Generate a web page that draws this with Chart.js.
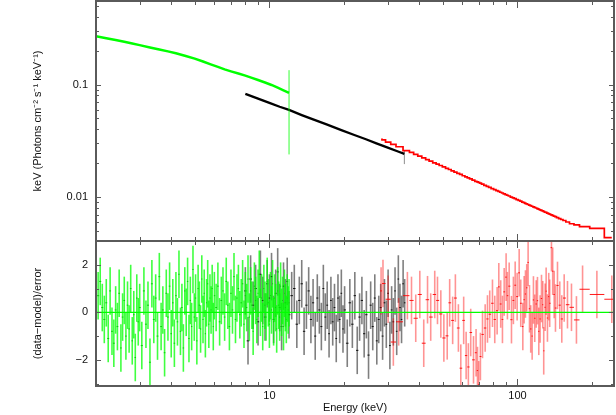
<!DOCTYPE html>
<html>
<head>
<meta charset="utf-8">
<script src="https://cdn.jsdelivr.net/npm/chart.js@4.4.1/dist/chart.umd.min.js"></script>
<style>
  html, body { margin: 0; padding: 0; background: #fff; overflow: hidden; }
  #wrap { position: relative; width: 616px; height: 415px; }
  #wrap canvas { position: absolute; left: 0; }
  #specChart { top: 0; }
  #resChart { top: 241px; }
</style>
</head>
<body>
<div id="wrap">
  <canvas id="specChart" width="616" height="242"></canvas>
  <canvas id="resChart" width="616" height="174"></canvas>
</div>
<script>
// energy axis (keV)
const xRange = [2.0, 245];
const xLabelTicks = [10, 100];
const xMinorTicks = [2, 3, 4, 5, 6, 7, 8, 9, 20, 30, 40, 50, 60, 70, 80, 90, 200];

// upper panel: unfolded spectrum
const fluxRange = [0.0041, 0.55];
const fluxLabelTicks = [0.01, 0.1];
const fluxMinorTicks = [0.005, 0.006, 0.007, 0.008, 0.009, 0.02, 0.03, 0.04, 0.05, 0.06, 0.07, 0.08, 0.09, 0.2, 0.3, 0.4, 0.5];

const greenSpecE = [2.0, 2.2, 2.4, 2.6, 2.8, 3.0, 3.3, 3.6, 3.9, 4.2, 4.6, 5.0, 5.4, 5.8, 6.2, 6.6, 7.0, 7.5, 8.0, 8.5, 9.0, 9.6, 10.2, 10.8, 11.4, 12.0];
const greenSpecFlux = [0.268, 0.2576, 0.2483, 0.2393, 0.2312, 0.2234, 0.2133, 0.2046, 0.1968, 0.1892, 0.1791, 0.1698, 0.160, 0.151, 0.1432, 0.1361, 0.1309, 0.1253, 0.120, 0.1146, 0.1096, 0.1042, 0.0991, 0.0938, 0.0889, 0.0843];
const greenWideE = [12.0];
const greenWideLo = [0.024];
const greenWideHi = [0.134];

const blackSpecE = [8.0, 9.0, 10.0, 11.0, 12.0, 13.5, 15.0, 17.0, 19.5, 22.0, 24.5, 27.0, 30.0, 33.0, 35.0];
const blackSpecFlux = [0.0826, 0.0750, 0.0687, 0.0635, 0.0595, 0.0536, 0.0491, 0.0443, 0.0394, 0.0357, 0.0327, 0.0301, 0.0276, 0.0255, 0.0243];
const blackWideE = [35.0];
const blackWideLo = [0.0197];
const blackWideHi = [0.0262];

// red bins are shared by both panels
const redE = [
  28.2, 28.7, 30.1, 31.6, 33.2, 36.0, 37.4, 38.9, 40.4, 41.9, 43.4,
  44.7, 46.4, 47.6, 49.1, 50.5, 52.1, 53.3, 54.8, 56.2, 57.8,
  59.1, 60.7, 62.1, 63.4, 64.8, 66.5, 68.1, 69.0, 69.8, 70.9,
  72.3, 74.1, 75.7, 77.3, 79.3, 81.0, 82.8, 84.1, 85.6, 87.0,
  88.4, 90.0, 91.1, 92.6, 94.6, 96.3, 97.9, 99.7, 101.6, 103.1,
  105.1, 106.4, 107.7, 109.0, 110.4, 111.8, 113.1, 114.6, 116.0, 117.4,
  119.0, 120.4, 121.9, 123.4, 125.0, 126.5, 127.6, 129.3, 130.5, 132.1,
  133.7, 134.9, 137.1, 138.7, 140.6, 142.3, 145.0, 148.1, 150.9, 154.3,
  159.1, 165.1, 172.9, 183, 209, 240
];
const redFlux = [
  0.03260, 0.03233, 0.03090, 0.02943, 0.02806, 0.02592, 0.02499, 0.02403, 0.02318, 0.02234, 0.02160,
  0.02096, 0.02021, 0.01972, 0.01914, 0.01863, 0.01806, 0.01764, 0.01716, 0.01675, 0.01630,
  0.01596, 0.01553, 0.01520, 0.01488, 0.01457, 0.01422, 0.01387, 0.01371, 0.01355, 0.01334,
  0.01310, 0.01278, 0.01252, 0.01226, 0.01196, 0.01171, 0.01146, 0.01129, 0.01109, 0.01092,
  0.01075, 0.01056, 0.01043, 0.01027, 0.01006, 0.00988, 0.00973, 0.00955, 0.00938, 0.00924,
  0.00908, 0.00896, 0.00885, 0.00875, 0.00864, 0.00854, 0.00844, 0.00833, 0.00823, 0.00814,
  0.00804, 0.00794, 0.00785, 0.00775, 0.00766, 0.00757, 0.00750, 0.00740, 0.00734, 0.00725,
  0.00716, 0.00710, 0.00699, 0.00691, 0.00682, 0.00674, 0.00662, 0.00648, 0.00636, 0.00623,
  0.00604, 0.00583, 0.0057, 0.00549, 0.0053, 0.0044
];
const redRes = [
  0.9, 1.21, 0.55, -1.25, -0.4, 0.7, 0.5, -0.25, 0.75, -1.3, 0.53,
  -0.2, 0.75, 0.5, -0.07, -1.08, -0.99, 0.4, -0.34, 0.6, -0.66,
  -2.35, -0.34, -1.82, -2.3, -0.85, -2.0, -1.7, -2.45, -3.05, -1.86,
  -0.93, -0.66, -0.28, -0.08, 0.38, -0.3, 0.07, 1.07, 0.35, -0.3,
  0.86, 1.48, 0.7, 1.1, -0.31, 0.5, 1.14, 0.66, 1.66, 0.38,
  -0.6, 0.53, 0.77, 1.03, 2.1, 0.15, -0.7, -1.0, 0.52, -0.25,
  0.35, 0.49, -0.8, -0.28, 0.58, 0.32, -1.62, 0.21, 0.89, -0.24,
  0.66, 0.38, 2.72, 1.73, 0.75, 0.18, 1.13, 0.3, -0.28, 0.6,
  0.32, 0.21, -0.32, 0.97, 0.75, 0.55
];

// lower panel: (data-model)/error
const resRange = [-3.1, 3.0];
const resLabelTicks = [-2, 0, 2];
const resMinorTicks = [-3, -1, 1, 3];

const greenResE = [
  2.00, 2.04, 2.08, 2.12, 2.16, 2.20, 2.24, 2.28, 2.32, 2.36,
  2.40, 2.44, 2.48, 2.52, 2.56, 2.60, 2.64, 2.68, 2.72, 2.76,
  2.80, 2.84, 2.88, 2.92, 2.96, 3.00,
  3.06, 3.12, 3.18, 3.24, 3.30, 3.36, 3.42, 3.48, 3.54, 3.60,
  3.66, 3.72, 3.78, 3.84, 3.90, 3.96, 4.02, 4.08, 4.14, 4.20,
  4.26, 4.32, 4.38, 4.44, 4.50, 4.56, 4.62, 4.68, 4.74, 4.80,
  4.86, 4.92, 4.98, 5.04, 5.10, 5.16, 5.22, 5.28, 5.34, 5.40,
  5.46, 5.52, 5.58, 5.64, 5.70, 5.76, 5.82, 5.88, 5.94, 6.00,
  6.1, 6.2, 6.3, 6.4, 6.5, 6.6, 6.7, 6.8, 6.9, 7.0,
  7.1, 7.2, 7.3, 7.4, 7.5, 7.6, 7.7, 7.8, 7.9, 8.0,
  8.1, 8.2, 8.3, 8.4, 8.5, 8.6, 8.7, 8.8, 8.9, 9.0,
  9.1, 9.2, 9.3, 9.4, 9.5, 9.6, 9.7, 9.8, 9.9, 10.0,
  10.1, 10.2, 10.3, 10.4, 10.5, 10.6, 10.7, 10.8, 10.9, 11.0,
  11.1, 11.2, 11.3, 11.4, 11.5, 11.6, 11.7, 11.8, 11.9, 12.0
];
const greenRes = [
  1.1, 0.7, 1.3, 0.2, -0.3, 0.4, -1.1, 0.9, -0.8, -1.3,
  0.1, -0.6, 0.8, -1.5, -0.2, 0.5, -1.0, 0.3, -0.7, 1.0,
  -1.2, -0.1, -1.9, 0.6, -0.4, 0.2,
  -1.4, 0.9, -0.5, 0.3, -2.1, 1.2, -0.3, 0.6, -1.0, 1.5,
  -0.6, 0.1, -1.7, 0.8, -0.2, 1.1, -0.9, 0.4, -1.3, 0.7,
  -0.4, 1.6, -0.8, 0.2, -1.5, 0.9, 0.0, 1.3, -1.1, 0.5,
  -0.6, 1.8, -0.2, 0.6, -1.2, 1.0, 0.3, -0.7, 1.4, -0.3,
  0.8, -0.9, 0.4, 1.2, -0.5, 0.6, 0.1, 1.0, -0.6, 0.7,
  0.2, 1.1, -0.4, 0.5, 0.9, -0.2, 1.3, 0.3, -0.6, 0.8,
  0.1, 1.5, -0.3, 0.6, 1.0, -0.1, 0.4, 1.2, -0.5, 0.7,
  0.2, 1.4, -0.2, 0.9, 0.3, -0.8, 1.1, 0.5, -0.3, 0.8,
  1.6, 0.0, 0.6, -0.6, 1.0, 0.3, -0.2, 1.3, 0.4, -0.5,
  0.7, 0.1, 1.2, -0.4, 0.6, 0.2, -0.7, 0.9, 0.3, -0.2,
  1.1, 0.0, 0.5, -0.6, 0.8, 0.2, -0.3, 0.6, 0.1, 0.4
];

const blackResE = [
  8.0, 8.2, 8.4, 8.6, 8.8, 9.0, 9.2, 9.4, 9.6, 9.8,
  10.0, 10.2, 10.4, 10.6, 10.8, 11.0, 11.2, 11.4, 11.6, 11.8,
  12.0, 12.3, 12.6, 12.9, 13.2, 13.5, 13.8, 14.1, 14.4, 14.7,
  15.0, 15.3, 15.6, 15.9, 16.2, 16.5, 16.8, 17.1, 17.4, 17.7,
  18.0, 18.3, 18.6, 18.9, 19.2, 19.5, 19.8, 20.1, 20.6, 21.1,
  21.6, 22.1, 22.6, 23.1, 23.6, 24.1, 24.6, 25.1, 25.6, 26.1,
  26.6, 27.1, 27.6, 28.1, 28.6, 29.1, 29.6, 30.1, 30.6, 31.1,
  31.6, 32.1, 32.6, 33.1, 33.6, 34.1, 34.6, 35.1
];
const blackRes = [
  0.9, -1.2, 1.4, 0.3, 1.0, -0.4, 1.6, 0.5, -0.2, 1.2,
  0.6, 1.5, -0.3, 0.8, 1.7, 0.2, -0.6, 1.1, 0.4, 1.3,
  -0.1, 0.7, 1.0, -0.5, 0.5, 1.2, -0.8, 0.3, 0.9, -0.3,
  0.4, -1.0, 0.6, 0.1, -0.6, 1.0, -0.2, 0.3, -0.9, 0.5,
  -0.4, 0.2, -1.1, 0.6, -0.3, 0.8, -0.7, 0.1, -1.3, 0.4,
  -0.5, 0.7, -1.6, -0.2, 0.5, -0.9, -0.1, -1.8, 0.3, -0.6,
  0.6, -1.2, -0.3, 0.2, -1.0, 0.4, -0.5, 0.8, -1.4, 0.1,
  -0.4, 0.9, -0.8, 1.4, 0.2, -0.3, 1.2, 0.4
];

const font = { family: '"Liberation Sans", Arial, Helvetica, sans-serif', size: 11 };
const ink = '#111111';
const frameColour = '#5a5a5a';
const green = '#00ff00';

// error bars, drawn right after their own dataset
const errorBars = {
  id: 'errorBars',
  afterDatasetDraw(chart, args) {
    const ds = chart.data.datasets[args.index];
    if (!ds.errorBars) return;
    const { ctx, chartArea: a } = chart;
    const xs = chart.scales[args.meta.xAxisID], ys = chart.scales[args.meta.yAxisID];
    ctx.save();
    ctx.beginPath();
    ctx.rect(a.left, a.top, a.right - a.left, a.bottom - a.top);
    ctx.clip();
    for (const p of ds.data) {
      const px = xs.getPixelForValue(p.x), py = ys.getPixelForValue(p.y);
      ctx.strokeStyle = ds.barColour;
      ctx.lineWidth = ds.barWidth || 1;
      ctx.beginPath();
      ctx.moveTo(px, ys.getPixelForValue(p.lo));
      ctx.lineTo(px, ys.getPixelForValue(p.hi));
      ctx.stroke();
      if (p.xr > p.xl) {
        ctx.strokeStyle = ds.tickColour;
        ctx.lineWidth = 1;
        ctx.beginPath();
        ctx.moveTo(xs.getPixelForValue(p.xl), py);
        ctx.lineTo(xs.getPixelForValue(p.xr), py);
        ctx.stroke();
      }
    }
    ctx.restore();
  }
};

// box round each panel with inward ticks on all four sides
const frameTicks = {
  id: 'frameTicks',
  afterDraw(chart, args, opts) {
    const { ctx, chartArea: a } = chart;
    const xs = chart.scales.x, ys = chart.scales.y;
    ctx.save();
    ctx.strokeStyle = frameColour;
    ctx.lineWidth = 1;
    ctx.beginPath();
    const xTick = (v, len) => {
      const p = Math.round(xs.getPixelForValue(v)) + 0.5;
      ctx.moveTo(p, a.top); ctx.lineTo(p, a.top + len);
      ctx.moveTo(p, a.bottom); ctx.lineTo(p, a.bottom - len);
    };
    const yTick = (v, len) => {
      const p = Math.round(ys.getPixelForValue(v)) + 0.5;
      ctx.moveTo(a.left, p); ctx.lineTo(a.left + len, p);
      ctx.moveTo(a.right, p); ctx.lineTo(a.right - len, p);
    };
    xLabelTicks.forEach(v => xTick(v, 7));
    xMinorTicks.forEach(v => xTick(v, 4));
    opts.yLabel.forEach(v => yTick(v, 5));
    opts.yMinor.forEach(v => yTick(v, 3));
    ctx.stroke();
    ctx.lineWidth = 2;
    ctx.strokeRect(a.left, a.top, a.right - a.left, a.bottom - a.top);
    ctx.restore();
  }
};

function lineSet(es, ys, colour, width, order, stepped) {
  return {
    type: 'line', data: es.map((e, i) => ({ x: e, y: ys[i] })),
    borderColor: colour, borderWidth: width, pointRadius: 0, tension: 0,
    stepped: stepped || false, order
  };
}

function barSet(es, los, his, colour, order) {
  return {
    type: 'scatter', pointRadius: 0, order, errorBars: true, barColour: colour, tickColour: colour,
    data: es.map((e, i) => ({ x: e, y: Math.sqrt(los[i] * his[i]), lo: los[i], hi: his[i], xl: e, xr: e }))
  };
}

function residualSet(es, rs, barColour, tickColour, barWidth, order) {
  const data = es.map((e, i) => {
    const prev = es[i - 1], next = es[i + 1];
    const xl = prev ? Math.sqrt(prev * e) : e * Math.sqrt(e / next);
    const xr = next ? Math.sqrt(e * next) : e * Math.sqrt(e / prev);
    return { x: e, y: rs[i], lo: rs[i] - 1, hi: rs[i] + 1, xl, xr };
  });
  return { type: 'scatter', data, pointRadius: 0, errorBars: true, barColour, tickColour, barWidth, order };
}

function xAxis(show) {
  return {
    type: 'logarithmic', min: xRange[0], max: xRange[1], bounds: 'data', display: show,
    afterBuildTicks: s => { s.ticks = xLabelTicks.map(v => ({ value: v })); },
    ticks: { font, color: ink, padding: 3, maxRotation: 0, autoSkip: false, callback: v => String(v) },
    grid: { display: false, drawTicks: false },
    border: { display: false },
    title: { display: show, text: 'Energy (keV)', font, color: ink, padding: { top: 0, bottom: 0 } },
    afterFit: s => {
      s.paddingLeft = 0; s.paddingRight = 0;
      if (show) s.height = 29;
    }
  };
}

function yAxis(type, range, labels, title, fmt) {
  return {
    type, min: range[0], max: range[1], bounds: 'data',
    afterBuildTicks: s => { s.ticks = labels.map(v => ({ value: v })); },
    ticks: { font, color: ink, padding: 8, callback: fmt },
    grid: { display: false, drawTicks: false },
    border: { display: false },
    title: { display: true, text: title, font, color: ink, padding: { top: 31, bottom: 0 } },
    afterFit: s => { s.width = 96; s.paddingTop = 0; s.paddingBottom = 0; }
  };
}

const common = {
  responsive: false, animation: false, devicePixelRatio: 1, events: [],
  plugins: { legend: { display: false }, tooltip: { enabled: false } }
};

new Chart(document.getElementById('specChart'), {
  type: 'scatter',
  data: {
    datasets: [
      lineSet(greenSpecE, greenSpecFlux, green, 2.5, 1),
      barSet(greenWideE, greenWideLo, greenWideHi, 'rgba(0,255,0,0.8)', 1),
      lineSet(redE, redFlux, '#ff0000', 1.7, 2, 'middle'),
      lineSet(blackSpecE, blackSpecFlux, '#000000', 2.3, 3),
      barSet(blackWideE, blackWideLo, blackWideHi, 'rgba(0,0,0,0.45)', 3)
    ]
  },
  options: Object.assign({}, common, {
    layout: { padding: { left: 0, right: 2, top: 1, bottom: 1 } },
    scales: {
      x: xAxis(false),
      y: yAxis('logarithmic', fluxRange, fluxLabelTicks, 'keV (Photons cm⁻² s⁻¹ keV⁻¹)', v => String(v))
    },
    plugins: Object.assign({}, common.plugins, { frameTicks: { yLabel: fluxLabelTicks, yMinor: fluxMinorTicks } })
  }),
  plugins: [errorBars, frameTicks]
});

new Chart(document.getElementById('resChart'), {
  type: 'scatter',
  data: {
    datasets: [
      lineSet(xRange, [0, 0], green, 1.3, 0),
      residualSet(redE, redRes, 'rgba(255,0,0,0.42)', 'rgba(255,0,0,0.9)', 1.6, 1),
      residualSet(greenResE, greenRes, 'rgba(0,255,0,0.75)', 'rgba(0,200,0,0.9)', 1.6, 2),
      residualSet(blackResE, blackRes, 'rgba(0,0,0,0.5)', 'rgba(0,0,0,0.9)', 1.6, 3)
    ]
  },
  options: Object.assign({}, common, {
    layout: { padding: { left: 0, right: 2, top: 0, bottom: 0 } },
    scales: {
      x: xAxis(true),
      y: yAxis('linear', resRange, resLabelTicks, '(data−model)/error', v => (v < 0 ? '−' + Math.abs(v) : String(v)))
    },
    plugins: Object.assign({}, common.plugins, { frameTicks: { yLabel: resLabelTicks, yMinor: resMinorTicks } })
  }),
  plugins: [errorBars, frameTicks]
});
</script>
</body>
</html>
